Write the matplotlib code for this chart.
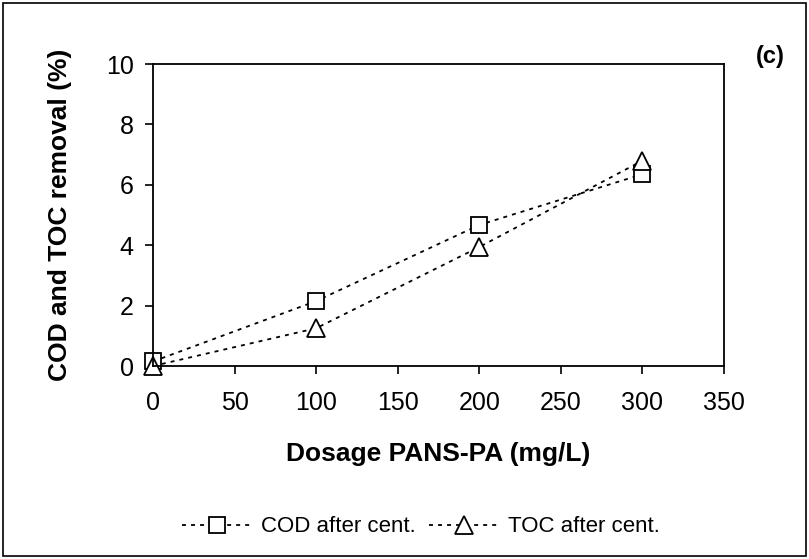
import matplotlib
matplotlib.use("Agg")
import matplotlib.pyplot as plt
from matplotlib.patches import Rectangle

plt.rcParams["font.family"] = ["Liberation Sans", "DejaVu Sans"]

dosage = [0, 100, 200, 300]
cod_removal = [0.15, 2.15, 4.67, 6.35]
toc_removal = [0.0, 1.25, 3.94, 6.8]
x_ticks = [0, 50, 100, 150, 200, 250, 300, 350]
y_ticks = [0, 2, 4, 6, 8, 10]

W, H = 809, 559
fig = plt.figure(figsize=(W / 100, H / 100), dpi=100)
# axes box in pixels: left 153, right 724, top 64, bottom 366
ax = fig.add_axes([153 / W, 1 - 366 / H, 571 / W, 302 / H])

ls = (0, (2.2, 2.8))
ax.plot(dosage, cod_removal, ls=ls, color="black", lw=1.3, marker="s", ms=11.5,
        mfc="white", mec="black", mew=1.3, label="COD after cent.", clip_on=False)
ax.plot(dosage, toc_removal, ls=ls, color="black", lw=1.3, marker="^", ms=12.5,
        mfc="white", mec="black", mew=1.3, label="TOC after cent.", clip_on=False)

ax.set_xlim(0, 350)
ax.set_ylim(0, 10)
ax.set_xticks(x_ticks)
ax.set_yticks(y_ticks)
ax.tick_params(direction="out", length=6, width=1.2, labelsize=18)
ax.tick_params(axis="x", pad=12)
ax.tick_params(axis="y", pad=8)
for s in ax.spines.values():
    s.set_linewidth(1.3)
ax.set_xlabel("Dosage PANS-PA (mg/L)", fontsize=19, fontweight="bold")
ax.set_ylabel("COD and TOC removal (%)", fontsize=19, fontweight="bold")
ax.xaxis.set_label_coords(0.5, -0.25)
ax.yaxis.set_label_coords(-0.142, 0.5)

fig.text(770 / W, 1 - 56 / H, "(c)", fontsize=17, fontweight="bold",
         ha="center", va="center")

fig.legend(loc="center", bbox_to_anchor=(421 / W, 1 - 527 / H), ncol=2,
           frameon=False, fontsize=16, handlelength=3.1, columnspacing=0.6,
           handletextpad=0.45)

fig.patches.append(Rectangle((3 / W, 3 / H), 803 / W, 553 / H,
                             transform=fig.transFigure, fill=False,
                             ec="black", lw=1.2))

fig.savefig("out.png", dpi=100)
